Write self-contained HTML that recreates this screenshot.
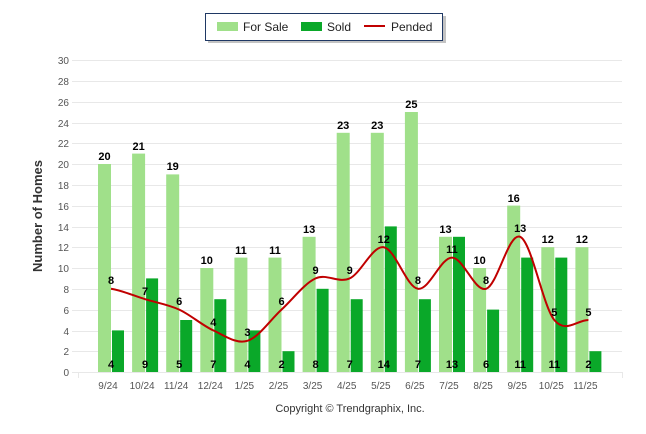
<!DOCTYPE html>
<html><head><meta charset="utf-8"><style>
body{margin:0;background:#fff;width:646px;height:434px;overflow:hidden}
svg{display:block;font-family:"Liberation Sans",sans-serif}
</style></head><body>
<svg width="646" height="434" viewBox="0 0 646 434">
<rect x="208" y="16" width="238" height="27" fill="#888" opacity="0.5"/>
<rect x="205.5" y="13.5" width="237" height="27" fill="#fff" stroke="#1f3864" stroke-width="1"/>
<rect x="217" y="22" width="21" height="9" fill="#a0e08a"/>
<text x="243" y="31" font-size="12" fill="#222">For Sale</text>
<rect x="301" y="22" width="21" height="9" fill="#0aa829"/>
<text x="327" y="31" font-size="12" fill="#222">Sold</text>
<rect x="364" y="25" width="21" height="2" fill="#c00000"/>
<text x="391" y="31" font-size="12" fill="#222">Pended</text>
<g stroke="#e8e8e8" stroke-width="1">
<line x1="72" x2="622" y1="60.5" y2="60.5"/><line x1="72" x2="622" y1="81.5" y2="81.5"/><line x1="72" x2="622" y1="102.5" y2="102.5"/><line x1="72" x2="622" y1="123.5" y2="123.5"/><line x1="72" x2="622" y1="143.5" y2="143.5"/><line x1="72" x2="622" y1="164.5" y2="164.5"/><line x1="72" x2="622" y1="185.5" y2="185.5"/><line x1="72" x2="622" y1="206.5" y2="206.5"/><line x1="72" x2="622" y1="227.5" y2="227.5"/><line x1="72" x2="622" y1="247.5" y2="247.5"/><line x1="72" x2="622" y1="268.5" y2="268.5"/><line x1="72" x2="622" y1="289.5" y2="289.5"/><line x1="72" x2="622" y1="310.5" y2="310.5"/><line x1="72" x2="622" y1="331.5" y2="331.5"/><line x1="72" x2="622" y1="351.5" y2="351.5"/><line x1="72" x2="622" y1="372.5" y2="372.5"/>
<line x1="78.5" x2="78.5" y1="372" y2="378"/><line x1="622.5" x2="622.5" y1="372" y2="378"/>
</g>
<g font-size="10" fill="#555" text-anchor="end">
<text x="69" y="64">30</text><text x="69" y="85">28</text><text x="69" y="106">26</text><text x="69" y="127">24</text><text x="69" y="147">22</text><text x="69" y="168">20</text><text x="69" y="189">18</text><text x="69" y="210">16</text><text x="69" y="231">14</text><text x="69" y="251">12</text><text x="69" y="272">10</text><text x="69" y="293">8</text><text x="69" y="314">6</text><text x="69" y="335">4</text><text x="69" y="355">2</text><text x="69" y="376">0</text>
</g>
<text transform="translate(42,216) rotate(-90)" font-size="13" font-weight="bold" fill="#333" text-anchor="middle">Number of Homes</text>
<g fill="#a0e08a">
<rect x="98" y="164" width="13" height="208"/><rect x="132.1" y="153.6" width="13" height="218.4"/><rect x="166.2" y="174.4" width="13" height="197.6"/><rect x="200.3" y="268" width="13" height="104"/><rect x="234.4" y="257.6" width="13" height="114.4"/><rect x="268.5" y="257.6" width="13" height="114.4"/><rect x="302.6" y="236.8" width="13" height="135.2"/><rect x="336.7" y="132.8" width="13" height="239.2"/><rect x="370.8" y="132.8" width="13" height="239.2"/><rect x="404.9" y="112" width="13" height="260"/><rect x="439" y="236.8" width="13" height="135.2"/><rect x="473.1" y="268" width="13" height="104"/><rect x="507.2" y="205.6" width="13" height="166.4"/><rect x="541.3" y="247.2" width="13" height="124.8"/><rect x="575.4" y="247.2" width="13" height="124.8"/>
</g>
<g fill="#0aa829">
<rect x="112" y="330.4" width="12" height="41.6"/><rect x="146.1" y="278.4" width="12" height="93.6"/><rect x="180.2" y="320" width="12" height="52"/><rect x="214.3" y="299.2" width="12" height="72.8"/><rect x="248.4" y="330.4" width="12" height="41.6"/><rect x="282.5" y="351.2" width="12" height="20.8"/><rect x="316.6" y="288.8" width="12" height="83.2"/><rect x="350.7" y="299.2" width="12" height="72.8"/><rect x="384.8" y="226.4" width="12" height="145.6"/><rect x="418.9" y="299.2" width="12" height="72.8"/><rect x="453" y="236.8" width="12" height="135.2"/><rect x="487.1" y="309.6" width="12" height="62.4"/><rect x="521.2" y="257.6" width="12" height="114.4"/><rect x="555.3" y="257.6" width="12" height="114.4"/><rect x="589.4" y="351.2" width="12" height="20.8"/>
</g>
<path d="M111,288.8 C122.37,290.53 133.73,295.73 145.1,299.2 C156.47,302.67 167.83,304.4 179.2,309.6 C190.57,314.8 201.93,325.2 213.3,330.4 C224.67,335.6 236.03,344.27 247.4,340.8 C258.77,337.33 270.13,320 281.5,309.6 C292.87,299.2 304.23,283.6 315.6,278.4 C326.97,273.2 338.33,283.6 349.7,278.4 C361.07,273.2 372.43,245.47 383.8,247.2 C395.17,248.93 406.53,287.07 417.9,288.8 C429.27,290.53 440.63,257.6 452,257.6 C463.37,257.6 474.73,292.27 486.1,288.8 C497.47,285.33 508.83,231.6 520.2,236.8 C531.57,242 542.93,306.13 554.3,320 C565.67,333.87 577.03,320 588.4,320" fill="none" stroke="#c00000" stroke-width="2"/>
<g font-size="11" font-weight="bold" fill="#000" text-anchor="middle">
<text x="104.5" y="160">20</text><text x="138.6" y="150">21</text><text x="172.7" y="170">19</text><text x="206.8" y="264">10</text><text x="240.9" y="254">11</text><text x="275" y="254">11</text><text x="309.1" y="233">13</text><text x="343.2" y="129">23</text><text x="377.3" y="129">23</text><text x="411.4" y="108">25</text><text x="445.5" y="233">13</text><text x="479.6" y="264">10</text><text x="513.7" y="202">16</text><text x="547.8" y="243">12</text><text x="581.9" y="243">12</text>
<text x="111" y="368">4</text><text x="145.1" y="368">9</text><text x="179.2" y="368">5</text><text x="213.3" y="368">7</text><text x="247.4" y="368">4</text><text x="281.5" y="368">2</text><text x="315.6" y="368">8</text><text x="349.7" y="368">7</text><text x="383.8" y="368">14</text><text x="417.9" y="368">7</text><text x="452" y="368">13</text><text x="486.1" y="368">6</text><text x="520.2" y="368">11</text><text x="554.3" y="368">11</text><text x="588.4" y="368">2</text>
<text x="111" y="284">8</text><text x="145.1" y="295">7</text><text x="179.2" y="305">6</text><text x="213.3" y="326">4</text><text x="247.4" y="336">3</text><text x="281.5" y="305">6</text><text x="315.6" y="274">9</text><text x="349.7" y="274">9</text><text x="383.8" y="243">12</text><text x="417.9" y="284">8</text><text x="452" y="253">11</text><text x="486.1" y="284">8</text><text x="520.2" y="232">13</text><text x="554.3" y="316">5</text><text x="588.4" y="316">5</text>
</g>
<g font-size="10" fill="#555" text-anchor="middle">
<text x="108" y="389">9/24</text><text x="142.1" y="389">10/24</text><text x="176.2" y="389">11/24</text><text x="210.3" y="389">12/24</text><text x="244.4" y="389">1/25</text><text x="278.5" y="389">2/25</text><text x="312.6" y="389">3/25</text><text x="346.7" y="389">4/25</text><text x="380.8" y="389">5/25</text><text x="414.9" y="389">6/25</text><text x="449" y="389">7/25</text><text x="483.1" y="389">8/25</text><text x="517.2" y="389">9/25</text><text x="551.3" y="389">10/25</text><text x="585.4" y="389">11/25</text>
</g>
<text x="350" y="412" font-size="11" fill="#333" text-anchor="middle">Copyright © Trendgraphix, Inc.</text>
</svg>
</body></html>
